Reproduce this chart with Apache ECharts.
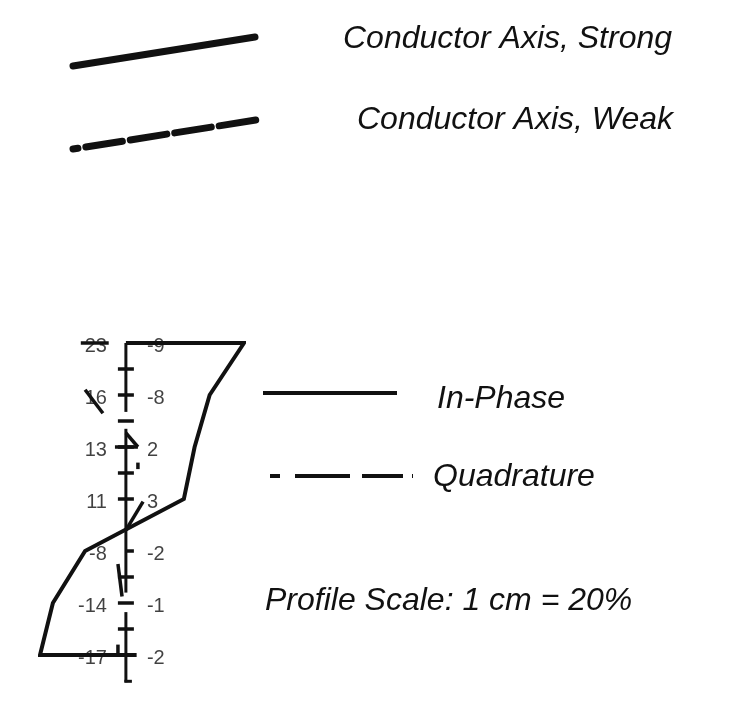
<!DOCTYPE html>
<html lang="en" style="height: 100%">
<head>
  <meta charset="utf-8">
  <title>Conductor Axis / Profile Legend</title>
</head>
<body style="height: 100%; margin: 0; background: #fff;">
  <div id="container" style="width: 746px; height: 714px;"></div>
  <script src="https://cdn.jsdelivr.net/npm/echarts@6/dist/echarts.min.js"></script>
  <script>
    // profile: station index down the axis, amplitude in %
    var inPhaseStation = [0, 0, 2, 4, 6, 8, 10, 12, 12];
    var inPhaseAmp = [0, 55, 39, 32, 27, -19, -34, -40, 5];

    var labelStations = [0, 2, 4, 6, 8, 10, 12];
    var leftLabels = ['23', '16', '13', '11', '-8', '-14', '-17'];
    var rightLabels = ['-9', '-8', '2', '3', '-2', '-1', '-2'];

    var tickStations = [1, 2, 3, 4, 5, 6, 8, 9, 10, 11, 12];
    var halfTicks = [8];
    var axisSegments = [[0, 2.65], [3.3, 9.6], [10.35, 13.05]];

    // quadrature strokes: [amp1, station1, amp2, station2]
    var quadSegments = [
      [-21, 0, -8, 0],
      [-19, 1.8, -10.7, 2.7],
      [0, 3.46, 5.6, 4],
      [-5.1, 4, 5.6, 4],
      [5.6, 4.6, 5.6, 4.85],
      [8, 6.1, 0, 7.2],
      [-3.7, 8.5, -1.8, 9.75],
      [-3.7, 11.6, -3.7, 12]
    ];

    var FONT = 'Liberation Sans, Arial, sans-serif';

    var dom = document.getElementById('container');
    var myChart = echarts.init(dom, null, { renderer: 'canvas' });

    function segItem(x1, y1, x2, y2, w) {
      return {
        type: 'line',
        shape: { x1: x1, y1: y1, x2: x2, y2: y2 },
        style: { stroke: '#111', lineWidth: w, lineCap: 'butt' }
      };
    }

    var option = {
      backgroundColor: '#ffffff',
      animation: false,
      grid: { left: 40, top: 343, width: 204, height: 338 },
      xAxis: { type: 'value', min: -40, max: 55, show: false },
      yAxis: { type: 'value', min: 0, max: 13, inverse: true, show: false },
      graphic: [
        { type: 'line', shape: { x1: 73, y1: 66, x2: 255, y2: 37 },
          style: { stroke: '#111', lineWidth: 7, lineCap: 'round' } },
        { type: 'line', shape: { x1: 73, y1: 149, x2: 256, y2: 120 },
          style: { stroke: '#111', lineWidth: 7, lineCap: 'round',
                   lineDash: [5, 8, 37, 8, 37, 8, 37, 8, 37] } },
        { type: 'text', x: 343, y: 39,
          style: { text: 'Conductor Axis, Strong', font: 'italic 32px ' + FONT, fill: '#111', verticalAlign: 'middle' } },
        { type: 'text', x: 357, y: 120,
          style: { text: 'Conductor Axis, Weak', font: 'italic 32px ' + FONT, fill: '#111', verticalAlign: 'middle' } },
        { type: 'line', shape: { x1: 263, y1: 393, x2: 397, y2: 393 },
          style: { stroke: '#111', lineWidth: 4 } },
        { type: 'line', shape: { x1: 270, y1: 476, x2: 413, y2: 476 },
          style: { stroke: '#111', lineWidth: 4, lineDash: [10, 15, 55, 12, 41, 9, 2] } },
        { type: 'text', x: 437, y: 399,
          style: { text: 'In-Phase', font: 'italic 32px ' + FONT, fill: '#111', verticalAlign: 'middle' } },
        { type: 'text', x: 433, y: 477,
          style: { text: 'Quadrature', font: 'italic 32px ' + FONT, fill: '#111', verticalAlign: 'middle' } },
        { type: 'text', x: 265, y: 601,
          style: { text: 'Profile Scale: 1 cm = 20%', font: 'italic 32px ' + FONT, fill: '#111', verticalAlign: 'middle' } }
      ],
      series: [
        {
          name: 'Left labels',
          type: 'scatter',
          symbolSize: 0,
          z: 1,
          data: labelStations.map(function (s, i) { return [0, s, leftLabels[i]]; }),
          label: {
            show: true, position: 'left', distance: 19, offset: [0, 3],
            formatter: function (p) { return p.value[2]; },
            fontFamily: FONT, fontSize: 20, color: '#111'
          }
        },
        {
          name: 'Right labels',
          type: 'scatter',
          symbolSize: 0,
          z: 1,
          data: labelStations.map(function (s, i) { return [0, s, rightLabels[i]]; }),
          label: {
            show: true, position: 'right', distance: 21, offset: [0, 3],
            formatter: function (p) { return p.value[2]; },
            fontFamily: FONT, fontSize: 20, color: '#111'
          }
        },
        {
          name: 'Axis',
          type: 'custom',
          z: 3,
          clip: false,
          data: axisSegments,
          renderItem: function (params, api) {
            var a = api.coord([0, api.value(0)]);
            var b = api.coord([0, api.value(1)]);
            var children = [segItem(a[0], a[1], b[0], b[1], 3)];
            if (params.dataIndex === axisSegments.length - 1) {
              children.push(segItem(b[0] - 1.5, b[1] - 1, b[0] + 6, b[1] - 1, 3));
            }
            return { type: 'group', children: children };
          }
        },
        {
          name: 'Ticks',
          type: 'custom',
          z: 3,
          clip: false,
          data: tickStations.map(function (s) { return [0, s]; }),
          renderItem: function (params, api) {
            var s = api.value(1);
            var p = api.coord([0, s]);
            var left = halfTicks.indexOf(s) >= 0 ? 0 : 8;
            return segItem(p[0] - left, p[1], p[0] + 8, p[1], 3.5);
          }
        },
        {
          name: 'Quadrature',
          type: 'custom',
          z: 3,
          clip: false,
          data: quadSegments,
          renderItem: function (params, api) {
            var a = api.coord([api.value(0), api.value(1)]);
            var b = api.coord([api.value(2), api.value(3)]);
            return segItem(a[0], a[1], b[0], b[1], 3.5);
          }
        },
        {
          name: 'In-Phase',
          type: 'line',
          z: 4,
          symbol: 'none',
          clip: false,
          data: inPhaseAmp.map(function (v, i) { return [v, inPhaseStation[i]]; }),
          lineStyle: { color: '#111', width: 4, join: 'miter' }
        }
      ]
    };

    myChart.setOption(option);
    window.addEventListener('resize', myChart.resize);
  </script>
</body>
</html>
